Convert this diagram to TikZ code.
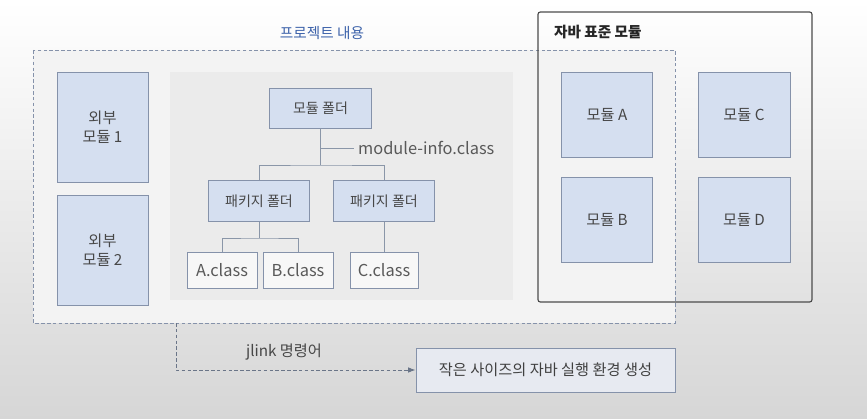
\documentclass[tikz,border=0pt]{standalone}
\usepackage{fontspec}
\setmainfont{Noto Sans CJK KR}
\usepackage{tikz}
\usetikzlibrary{arrows.meta, positioning}
\definecolor{boxblue}{HTML}{D5DFF0}
\definecolor{boxline}{HTML}{8592AA}
\definecolor{panelgray}{HTML}{EBEBEB}
\definecolor{titleblue}{HTML}{3C62AA}
\definecolor{treeline}{HTML}{8A96A8}
\definecolor{resultfill}{HTML}{E7EAF1}
\tikzstyle{module} = [rectangle, minimum width=2.73cm, minimum height=2.55cm, align=center, text=black!72, draw=boxline, fill=boxblue, line width=0.8pt, font=\fontsize{13}{16}\selectfont]
\tikzstyle{folder} = [rectangle, minimum width=3.05cm, minimum height=1.24cm, align=center, text=black!72, draw=boxline, fill=boxblue, line width=0.8pt, font=\fontsize{12}{14}\selectfont]
\tikzstyle{classfile} = [rectangle, minimum width=2.1cm, minimum height=1.08cm, inner sep=1pt, align=center, text=black!65, draw=boxline, fill=white!60!panelgray, line width=0.8pt, font=\fontsize{14}{16}\selectfont]
\tikzstyle{tree} = [treeline, line width=0.8pt]
\tikzstyle{arrow} = [densely dashed, boxline!80!black, line width=0.8pt, -{Latex[length=2.2mm]}]

\begin{document}
\begin{tikzpicture}[x=0.3mm, y=-0.3mm, font=\fontsize{13}{16}\selectfont]
    % background
    \shade[top color=white, bottom color=black!16] (0,0) rectangle (867,419);
    \useasboundingbox (0,0) rectangle (867,419);
    % frames
    \fill[white!40!panelgray] (33,50) rectangle (675,323);
    \fill[panelgray] (170,72) rectangle (513,300);
    \draw[boxline, densely dashed, line width=0.8pt] (33,50) rectangle (675,323);
    \draw[black!70, line width=1pt, rounded corners=2pt] (538,12) rectangle (812,302);
    \node (projtitle) [text=titleblue, font=\fontsize{12.5}{15}\selectfont] at (322,33) {프로젝트 내용};
    \node (stdtitle) [anchor=west, text=black!85, font=\fontsize{12.5}{15}\selectfont\bfseries] at (550,32) {자바 표준 모듈};
    % external modules
    \node (ext1) [module, minimum height=3.3cm] at (102.5,127) {외부\\모듈 1};
    \node (ext2) [module, minimum height=3.3cm] at (102.5,250.5) {외부\\모듈 2};
    % module tree
    \node (modfolder) [folder, minimum height=1.2cm] at (320.5,108) {모듈 폴더};
    \node (pkg1) [folder] at (259,201) {패키지 폴더};
    \node (pkg2) [folder] at (384,201) {패키지 폴더};
    \node (aclass) [classfile] at (222,270) {A.class};
    \node (bclass) [classfile] at (298,270) {B.class};
    \node (cclass) [classfile, minimum width=2.04cm] at (384,270) {C.class};
    \node (info) [anchor=west, text=black!65, font=\fontsize{14}{16}\selectfont] at (354,148) {module-info.class};
    \coordinate (top) at (320.5,165);
    \coordinate (mid) at (259,238);
    \coordinate (infoj) at (320.5,148);
    \draw [tree] (modfolder) -- (top);
    \draw [tree] (pkg1.north) |- (top) -| (pkg2.north);
    \draw [tree] (infoj) -- (info.west);
    \draw [tree] (pkg1) -- (mid);
    \draw [tree] (aclass.north) |- (mid) -| (bclass.north);
    \draw [tree] (pkg2) -- (cclass);
    % standard modules
    \node (moda) [module] at (607,114.5) {모듈 A};
    \node (modb) [module] at (607,219.5) {모듈 B};
    \node (modc) [module, minimum width=2.76cm] at (744,114.5) {모듈 C};
    \node (modd) [module, minimum width=2.76cm] at (744,219.5) {모듈 D};
    % jlink
    \node (result) [rectangle, minimum width=7.77cm, minimum height=1.32cm, draw=boxline, fill=resultfill, line width=0.8pt, text=black!75] at (545.5,370) {작은 사이즈의 자바 실행 환경 생성};
    \coordinate (jstart) at (176,323);
    \draw [arrow] (jstart) |- (result.west);
    \node (jlink) [text=black!72] at (284,352) {jlink 명령어};
\end{tikzpicture}
\end{document}
